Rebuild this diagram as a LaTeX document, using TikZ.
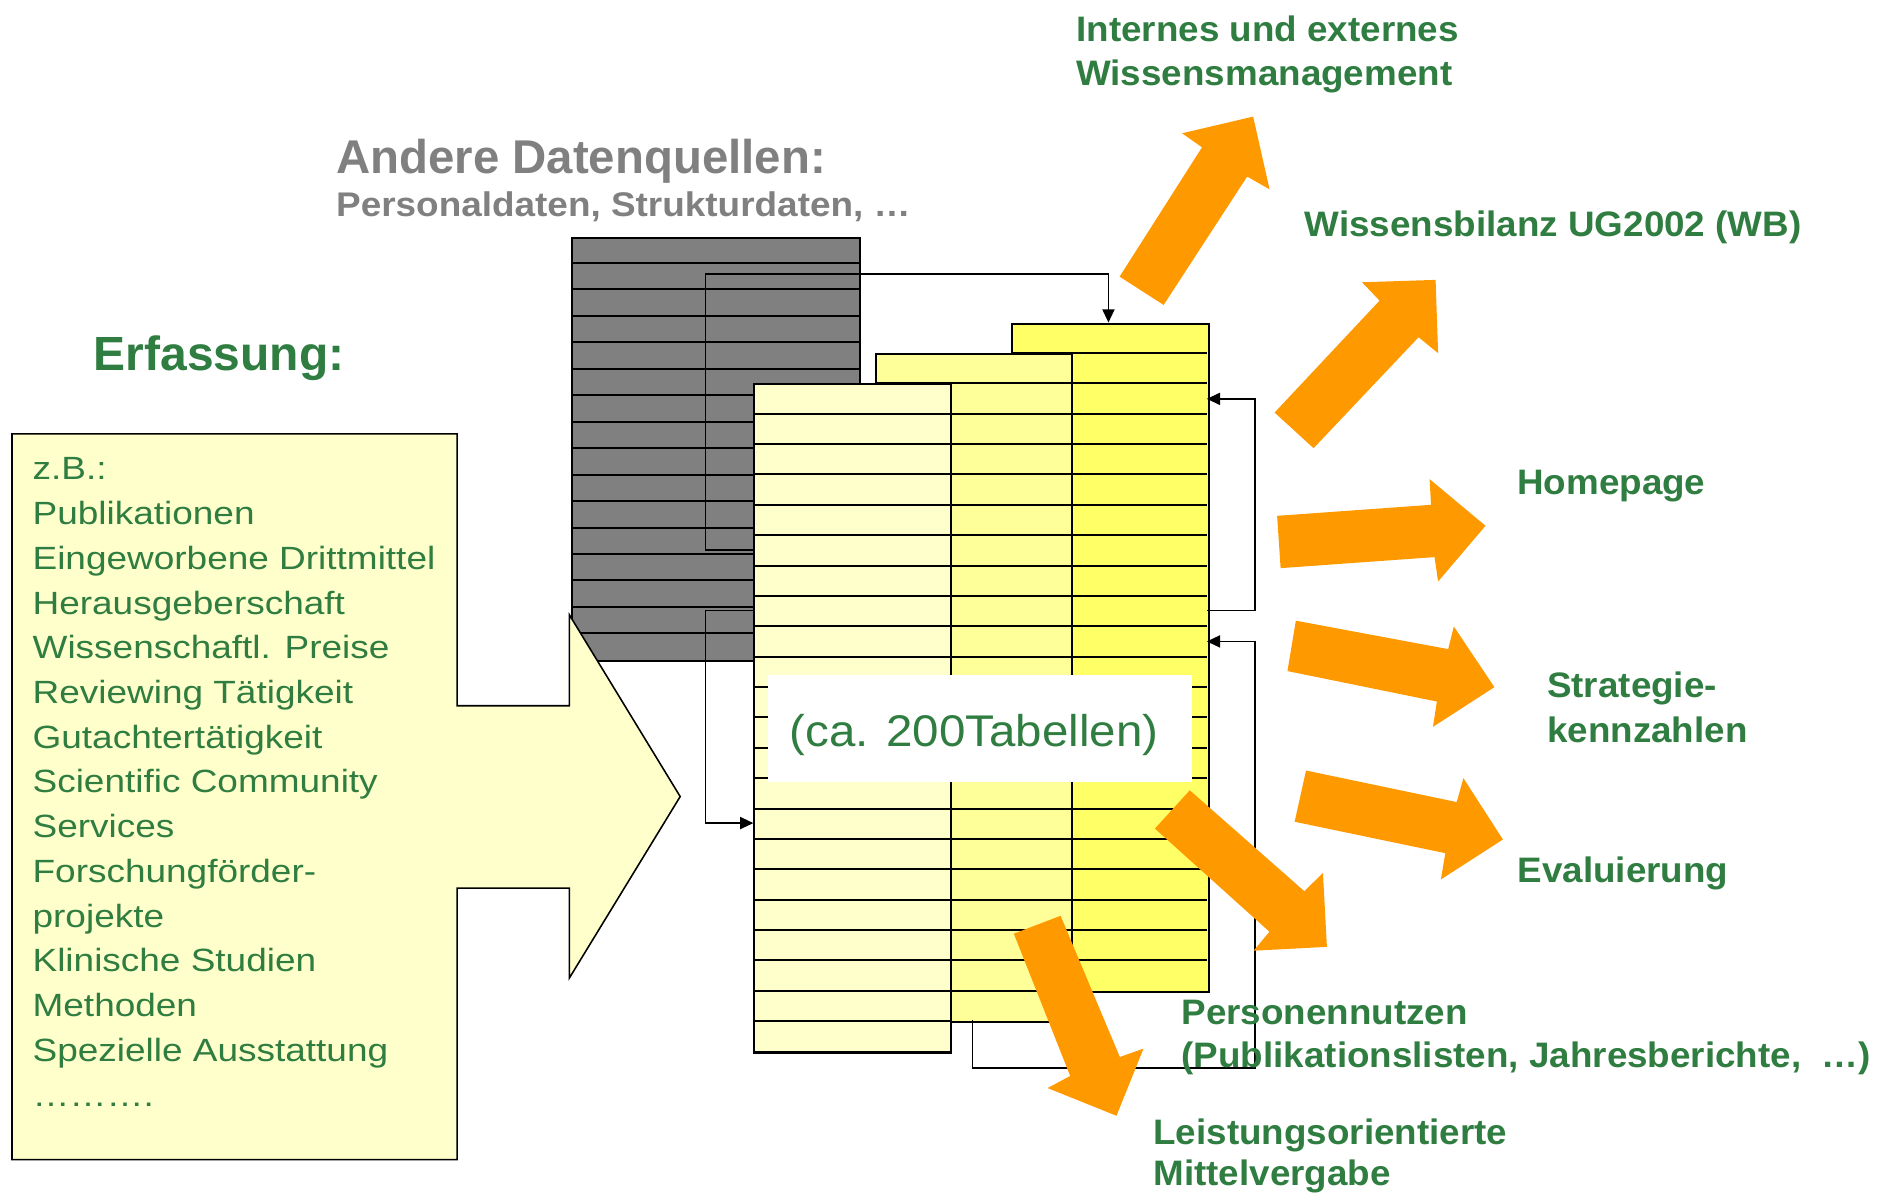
\documentclass[tikz,border=0pt]{standalone}
\usepackage{fontspec}
\setmainfont{Liberation Sans}
\newfontfamily\fbody[FakeStretch=1.15]{Liberation Sans}
\newfontfamily\flab[FakeStretch=1.04]{Liberation Sans}
\newfontfamily\fpers[FakeStretch=1.08]{Liberation Sans}
\newfontfamily\ftab[FakeStretch=1.07]{Liberation Sans}
\usetikzlibrary{arrows.meta}
\definecolor{tgreen}{RGB}{47,125,64}
\definecolor{tgray}{RGB}{128,128,128}
\definecolor{torange}{RGB}{255,153,0}
\definecolor{ylight}{RGB}{255,255,204}
\definecolor{ymid}{RGB}{255,255,153}
\definecolor{ybright}{RGB}{255,255,102}
\tikzset{
  lab/.style={text=tgreen, font={\flab\bfseries\fontsize{29.5}{36}\selectfont}, inner sep=0pt, anchor=base west},
  body/.style={text=tgreen, font={\fbody\fontsize{26.8}{37}\selectfont}, inner sep=0pt, anchor=base west},
  tline/.style={line width=1.7pt},
  tabbox/.style={draw, line width=1.7pt, inner sep=0pt, anchor=north west, minimum width=164pt, minimum height=557pt},
  fb/.style={line width=1.4pt, -{Triangle[length=11pt,width=10pt]}},
  big/.style={fill=torange, draw=none},
}
\begin{document}
\begin{tikzpicture}[x=1pt,y=-1pt]
\useasboundingbox[fill=white] (0,0) rectangle (1568,996);

% gray table
\node[draw, fill=tgray, line width=1.7pt, inner sep=0pt, anchor=north west, minimum width=240pt, minimum height=352.8pt] (gtab) at (476,197.2) {};
\foreach \k in {1,...,15} {\draw[tline] (476,{197.2+22.05*\k}) -- (716,{197.2+22.05*\k});}

% left feedback connectors (over the gray table)
\coordinate (l1s) at (628,458.3);
\coordinate (l1a) at (588,458.3);
\coordinate (l1b) at (588,228.6);
\coordinate (l1c) at (924,228.6);
\coordinate (l1e) at (924,268.9);
\draw[fb] (l1s) -- (l1a) -- (l1b) -- (l1c) -- (l1e);
\coordinate (l4s) at (628,508.9);
\coordinate (l4a) at (588,508.9);
\coordinate (l4b) at (588,686.1);
\coordinate (l4e) at (628,686.1);
\draw[fb] (l4s) -- (l4a) -- (l4b) -- (l4e);

% input box with arrow
\draw[fill=ylight, line width=1.3pt] (10,361.7) -- (381,361.7) -- (381,588.3) -- (474.6,588.3) -- (474.6,512.5) -- (567,664) -- (474.6,815.3) -- (474.6,740.3) -- (381,740.3) -- (381,966.7) -- (10,966.7) -- cycle;

% stacked tables
\node[tabbox, fill=ybright] (t3) at (843,268.9) {};
\foreach \k in {1,...,21} {\draw[tline] (843,{268.9+25.32*\k}) -- (1006,{268.9+25.32*\k});}
\node[tabbox, fill=ymid] (t2) at (729,294.2) {};
\foreach \k in {1,...,21} {\draw[tline] (729,{294.2+25.32*\k}) -- (893,{294.2+25.32*\k});}
\node[tabbox, fill=ylight] (t1) at (628,319.5) {};
\foreach \k in {1,...,21} {\draw[tline] (628,{319.5+25.32*\k}) -- (792,{319.5+25.32*\k});}

% white label box
\fill[white] (640,563) rectangle (994,652);
\node[text=tgreen, font={\ftab\fontsize{37}{40}\selectfont}, inner sep=0pt, anchor=base west] (tab) at (658,622) {(ca. 200Tabellen)};

% right feedback connectors
\coordinate (l2s) at (1006,508.9);
\coordinate (l2a) at (1046,508.9);
\coordinate (l2b) at (1046,332.5);
\coordinate (l2e) at (1006,332.5);
\draw[fb] (l2s) -- (l2a) -- (l2b) -- (l2e);
\coordinate (l3s) at (810.6,850.6);
\coordinate (l3a) at (810.6,890.3);
\coordinate (l3b) at (1046,890.3);
\coordinate (l3c) at (1046,534.7);
\coordinate (l3e) at (1006,534.7);
\draw[fb] (l3s) -- (l3a) -- (l3b) -- (l3c) -- (l3e);

% orange output arrows
\fill[big] (933.3,230.6) -- (1002,122.8) -- (985.4,111.1) -- (1044.6,97.2) -- (1058.3,157.8) -- (1039.6,147.2) -- (970,254.2) -- cycle;
\fill[big] (1062.5,343.9) -- (1150,250.6) -- (1135.4,235.3) -- (1196.7,233.3) -- (1198.8,294.4) -- (1182.5,281.1) -- (1095,373.6) -- cycle;
\fill[big] (1064.6,430) -- (1192.9,420.8) -- (1191.7,399.4) -- (1238.3,438.3) -- (1198.8,484.7) -- (1195.8,464.4) -- (1067.5,473.6) -- cycle;
\fill[big] (1080.2,517.4) -- (1207.2,541.1) -- (1211.9,522.2) -- (1245.7,572.8) -- (1194.5,605.9) -- (1197.8,584.8) -- (1073.2,559.4) -- cycle;
\fill[big] (1088.7,642.3) -- (1214.3,668.6) -- (1219.9,648.7) -- (1252.8,699.8) -- (1201.1,733.1) -- (1204.8,711.2) -- (1079.2,685) -- cycle;
\fill[big] (991.8,658.8) -- (1087.3,742.9) -- (1102.8,727.7) -- (1106.1,789.3) -- (1045,792.5) -- (1058.2,776.7) -- (962.7,690.7) -- cycle;
\fill[big] (884.1,763.4) -- (933.5,881.1) -- (953.2,874.1) -- (930.7,930.1) -- (873.3,907) -- (892.1,896.9) -- (845.1,778.3) -- cycle;

% titles
\node[text=tgray, font={\bfseries\fontsize{39.5}{44}\selectfont}, inner sep=0pt, anchor=base west] (andere) at (280,144.4) {Andere Datenquellen:};
\node[text=tgray, font={\fpers\bfseries\fontsize{28.5}{34}\selectfont}, inner sep=0pt, anchor=base west] (pers) at (280,180.6) {Personaldaten, Strukturdaten, …};
\node[text=tgreen, font={\bfseries\fontsize{40}{44}\selectfont}, inner sep=0pt, anchor=base west] (erf) at (78,309) {Erfassung:};

% output labels
\node[lab] (o1a) at (897,35) {Internes und externes};
\node[lab] (o1b) at (897,71) {Wissensmanagement};
\node[lab] (o2) at (1087.5,197.2) {Wissensbilanz UG2002 (WB)};
\node[lab] (o3) at (1264.6,412.5) {Homepage};
\node[lab] (o4a) at (1289.5,581.6) {Strategie-};
\node[lab] (o4b) at (1289.5,618.6) {kennzahlen};
\node[lab] (o5) at (1265,735.6) {Evaluierung};
\node[lab] (o6a) at (984.8,853.6) {Personennutzen};
\node[lab] (o6b) at (984.8,889.6) {(Publikationslisten, Jahresberichte,\ \ …)};
\node[lab] (o7a) at (961.3,953.8) {Leistungsorientierte};
\node[lab] (o7b) at (961.3,988.6) {Mittelvergabe};

% input list
\foreach \t [count=\i from 0] in {z.B.:, Publikationen, Eingeworbene Drittmittel, Herausgeberschaft, Wissenschaftl. Preise, Reviewing Tätigkeit, Gutachtertätigkeit, Scientific Community, Services, Forschungförder-, projekte, Klinische Studien, Methoden, Spezielle Ausstattung, ……….}
  {\node[body] (in\i) at (27,{400+37.29*\i}) {\t};}
\end{tikzpicture}
\end{document}
